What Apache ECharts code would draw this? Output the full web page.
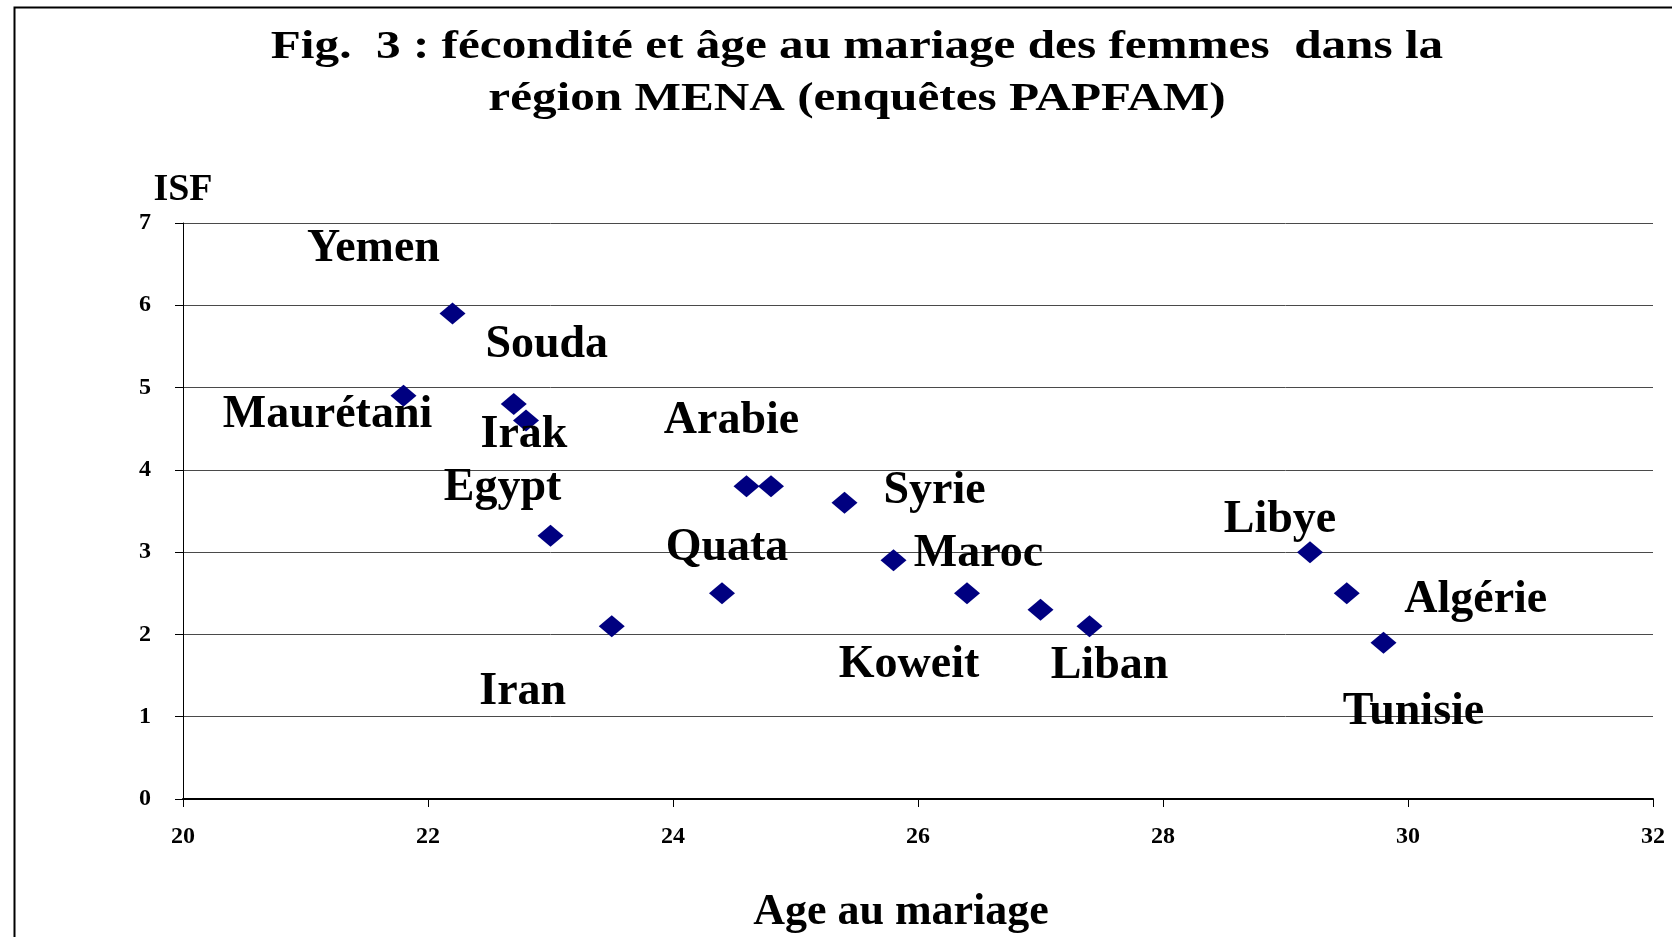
<!DOCTYPE html>
<html>
<head>
<meta charset="utf-8">
<script src="https://cdn.jsdelivr.net/npm/echarts@6/dist/echarts.min.js"></script>
<style>
  html, body { margin: 0; padding: 0; background: #fff; }
  #canvas { width: 1672px; height: 937px; }
</style>
</head>
<body>
<div id="canvas"></div>
<script>
// age au mariage (x) et ISF (y)
var ages = [21.8, 22.2, 22.7, 22.8, 23.0, 23.5, 24.4, 24.6, 24.8, 25.4, 25.8, 26.4, 27.0, 27.4, 29.2, 29.5, 29.8];
var isf = [4.9, 5.9, 4.8, 4.6, 3.2, 2.1, 2.5, 3.8, 3.8, 3.6, 2.9, 2.5, 2.3, 2.1, 3.0, 2.5, 1.9];
var pays = ['Maurétani', 'Yemen', 'Souda', 'Irak', 'Egypt', 'Iran', 'Quata', 'Arabie', '', 'Syrie',
            'Maroc', 'Koweit', '', 'Liban', 'Libye', 'Algérie', 'Tunisie'];

// décalage des étiquettes (px), déplacées à la main dans l'original
var labelOffsets = [[-76, 19], [-79, -64], [33, -59], [-2, 15], [-48, -48], [-89, 66], [5, -45], [-15, -65], [0, 0],
                    [90, -12], [85, -6], [-58, 72], [0, 0], [20, 40], [-30, -32], [129, 7], [30, 69]];

var titleLines = ['Fig.  3 : fécondité et âge au mariage des femmes  dans la', 'région MENA (enquêtes PAPFAM)'];

var font = 'Liberation Serif';

var points = ages.map(function (a, i) {
    return {
        value: [a, isf[i]],
        name: pays[i],
        label: { offset: labelOffsets[i] }
    };
});

var myChart = echarts.init(document.getElementById('canvas'));

// le texte d'origine est étiré en largeur
function stretched(txt, x, y, size, sx) {
    return {
        type: 'text',
        x: x,
        y: y,
        scaleX: sx,
        silent: true,
        style: {
            text: txt,
            fill: '#000',
            font: 'bold ' + size + 'px "' + font + '"',
            textAlign: 'center',
            textVerticalAlign: 'middle'
        }
    };
}

myChart.setOption({
    backgroundColor: '#fff',
    animation: false,
    graphic: [
        {
            type: 'rect',
            left: 12,
            top: 5,
            shape: { width: 1700, height: 1000 },
            style: { fill: 'none', stroke: '#000', lineWidth: 2 },
            silent: true
        },
        stretched(titleLines[0], 857, 48, 40, 1.23),
        stretched(titleLines[1], 857, 100, 40, 1.23)
    ],
    grid: {
        left: 183,
        right: 19,
        top: 223,
        bottom: 138,
        containLabel: false,
        outerBoundsMode: 'none'
    },
    xAxis: {
        type: 'value',
        min: 20,
        max: 32,
        interval: 2,
        name: 'Age au mariage',
        nameLocation: 'middle',
        nameGap: 92,
        nameTextStyle: { fontFamily: font, fontWeight: 'bold', fontSize: 44, color: '#000', padding: [0, 34, 0, 0] },
        axisLine: { show: true, lineStyle: { color: '#000', width: 2 } },
        axisTick: { show: true, length: 8, lineStyle: { color: '#000' } },
        axisLabel: { fontFamily: font, fontWeight: 'bold', fontSize: 24, color: '#000', margin: 26 },
        splitLine: { show: false }
    },
    yAxis: {
        type: 'value',
        min: 0,
        max: 7,
        interval: 1,
        name: 'ISF',
        nameLocation: 'end',
        nameGap: 14,
        nameTextStyle: { fontFamily: font, fontWeight: 'bold', fontSize: 38, color: '#000', align: 'center' },
        axisLine: { show: true, lineStyle: { color: '#000', width: 1 } },
        axisTick: { show: true, length: 8, lineStyle: { color: '#000' } },
        axisLabel: { fontFamily: font, fontWeight: 'bold', fontSize: 24, color: '#000', margin: 32 },
        splitLine: { show: true, lineStyle: { color: '#4a4a4a', width: 1 } }
    },
    series: [{
        type: 'scatter',
        symbol: 'diamond',
        symbolSize: [26, 22],
        itemStyle: { color: '#000080', opacity: 1 },
        data: points,
        label: {
            show: true,
            position: 'inside',
            formatter: function (p) { return p.name; },
            fontFamily: font,
            fontWeight: 'bold',
            fontSize: 46,
            color: '#000'
        },
        emphasis: { disabled: true }
    }]
});
</script>
</body>
</html>
